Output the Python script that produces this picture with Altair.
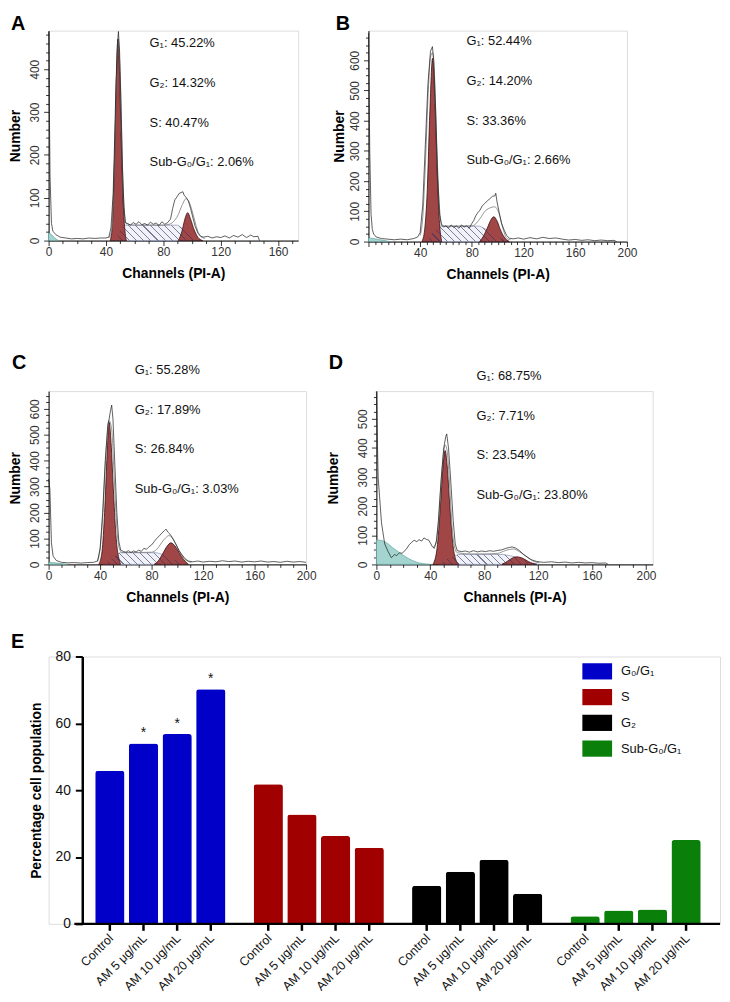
import altair as alt
import pandas as pd

FONT = "Liberation Sans, Arial, sans-serif"

# ---------------- Panel A (control) ----------------
A_RAW = [(0,488),(1,150),(2,40),(3,22),(5,14),(8,8),(12,6),(16,4),(20,5),(24,4),(28,6),(32,5),(36,6),(40,6),(42,8),
         (43.5,30),(45,110),(46,230),(47,370),(48,460),(48.7,488),(49.5,440),(50.5,310),(51.5,170),(52.5,80),(53.5,42),
         (55,40),(57,36),(59,42),(61,38),(63,44),(65,37),(67,40),(69,36),(71,43),(73,38),(75,41),(77,35),(79,44),(81,38),
         (83,42),(85,50),(86.5,75),(88,95),(89.5,102),(91,110),(93.6,114),(94.5,106),(96,100),(97.5,92),(99,75),(100.5,55),
         (102,35),(104,18),(106,10),(108,8),(111,10),(114,6),(117,9),(120,7),(123,11),(126,6),(129,12),(132,8),(135,14),
         (138,7),(141,13),(143,9),(146,10),(147,0)]
A_MODEL = [(42,6),(44,25),(46,200),(47.5,400),(48.5,470),(50,380),(52,120),(54,40),(60,36),(70,36),(80,36),(84,38),
           (87,44),(90,58),(93,82),(95.9,98),(98,90),(100,70),(102,45),(104,22),(106,10),(109,5)]
A_G1 = [(43,0),(44.5,40),(46,190),(47.3,380),(48.3,470),(49.3,410),(50.5,250),(52,90),(53.3,20),(54.3,0)]
A_G2 = [(90.5,0),(93,22),(95,50),(97,65),(99,50),(101.5,25),(104,8),(107.4,0)]
A_S = [(46,0),(49,18),(52,36),(90,36),(95,24),(100,9),(105,0)]
A_SUB = [(0,18),(2,14),(4,7),(6,2),(7,0)]
A_STATS = ["G₁: 45.22%", "G₂: 14.32%", "S: 40.47%", "Sub-G₀/G₁: 2.06%"]

# ---------------- Panel B (AM 5 µg/mL) ----------------
B_RAW = [(0,690),(1,300),(2,90),(3,40),(4,25),(6,15),(10,10),(15,8),(20,6),(25,8),(30,6),(35,10),(38,15),(40,30),
         (42,120),(44,320),(46,520),(48,630),(49.5,645),(50.5,600),(52,430),(53.5,220),(55,90),(56.5,55),(58,48),
         (60,52),(62,45),(64,55),(66,47),(68,52),(70,44),(72,55),(74,48),(76,52),(78,44),(80,60),(81.5,70),(83,85),
         (84.5,95),(86.3,104),(88,118),(90,126),(92,135),(94,142),(96,150),(97.7,151),(98.5,160),(99.5,131),
         (101.6,87),(103,60),(105,38),(107,20),(109,11),(112,9),(116,12),(120,8),(125,13),(130,9),(135,14),(140,10),
         (145,12),(150,8),(155,5),(160,7),(165,4),(170,6),(175,3),(180,5),(185,3),(190,4),(192,0)]
B_MODEL = [(40,20),(42,80),(44,250),(46,470),(48,610),(49.6,625),(51,560),(53,300),(55,110),(57,55),(60,51),(70,51),
           (80,52),(82,55),(86.3,76),(91,104),(97.7,115),(101,93),(104,44),(107,11),(110,6)]
B_G1 = [(41.4,0),(43.5,40),(45.5,170),(47.5,430),(49.6,607),(51.5,450),(53.5,190),(55,60),(56.7,0)]
B_G2 = [(86,0),(89,18),(92,45),(94.5,70),(97,82),(99.5,68),(102,40),(105,15),(109,0)]
B_S = [(44,0),(49,25),(55.4,51),(86,51),(92,38),(98,20),(104,7),(109,0)]
B_SUB = [(0,12),(4,10),(8,7),(12,4),(16,0)]
B_STATS = ["G₁: 52.44%", "G₂: 14.20%", "S: 33.36%", "Sub-G₀/G₁: 2.66%"]

# ---------------- Panel C (AM 10 µg/mL) ----------------
C_RAW = [(0,330),(1,290),(2.2,83),(3.5,32),(6,15),(10,8),(15,6),(20,7),(25,5),(30,7),(35,8),(38,13),(40,60),(42,200),
         (44,400),(46,540),(47,560),(48,590),(49,614),(50,560),(51.5,380),(53,200),(54.5,90),(56,55),(58,50),(60,47),
         (62,53),(64,46),(66,52),(68,48),(70,55),(72,50),(74,62),(76,58),(78,68),(80,75),(82,88),(84,100),(86,110),
         (88,121),(90,130),(91.2,136),(92.5,125),(94,118),(96.3,102),(98,85),(99.6,70),(101.5,52),(103.5,38),(106,22),
         (108.6,13),(112,10),(116,13),(120,9),(125,12),(130,10),(135,14),(140,11),(145,13),(150,9),(155,12),(160,10),
         (165,13),(170,9),(175,11),(180,8),(185,12),(190,9),(195,11),(200,8)]
C_MODEL = [(38,12),(40,60),(42,180),(44,380),(46,520),(47,555),(49,520),(51,330),(53,140),(55,60),(57,46),(70,46),
           (80,47),(84,58),(88,85),(91,103),(93.4,111),(96,102),(99,78),(102,47),(105,24),(108,12),(111,8)]
C_G1 = [(39,0),(41.5,50),(43.5,200),(45.5,430),(47,548),(48.5,470),(50.5,270),(52.5,100),(54.5,25),(56,0)]
C_G2 = [(82,0),(85,12),(88.5,40),(92,70),(95,83),(98,72),(101.5,45),(105,18),(108.6,0)]
C_S = [(42,0),(48,20),(55.3,45),(84,45),(90,36),(96,22),(102,9),(108,0)]
C_SUB = [(0,8),(5,6),(10,3),(15,0)]
C_STATS = ["G₁: 55.28%", "G₂: 17.89%", "S: 26.84%", "Sub-G₀/G₁: 3.03%"]

# ---------------- Panel D (AM 20 µg/mL) ----------------
D_RAW = [(0,595),(1.3,300),(3.8,142),(6.2,70),(8.6,45),(11.1,23),(13.5,34),(15,30),(17.1,40),(19,38),(22,51),
         (24.4,68),(26,75),(28,83),(30,78),(31.6,85),(33.5,80),(35.3,91),(37,86),(38.9,83),(40.5,70),(41.3,62),
         (43,55),(44.5,80),(46,150),(48,290),(50,400),(51.5,440),(52.2,448),(53.5,400),(55,300),(57,150),(58.5,70),
         (60,47),(63,44),(66,46),(69,42),(72,47),(75,43),(78,46),(81,44),(84,47),(87,45),(90,48),(93,50),(96,55),
         (98.5,58),(100.7,60),(103,57),(106,48),(109,35),(112,25),(115,16),(119,10),(124,7),(130,9),(135,6),(140,8),
         (145,5),(150,7),(155,5),(160,6),(165,4),(170,5),(172,0)]
D_MODEL = [(42,60),(44,70),(46,140),(48,280),(50,390),(51,410),(52.5,390),(54,300),(56,140),(58,60),(60,40),(70,36),
           (80,36),(90,38),(96,48),(101.5,53),(106,44),(111,28),(116,12),(121,5)]
D_G1 = [(42,0),(45,55),(47.5,200),(49.5,340),(51,391),(52.5,340),(54.5,200),(57,60),(59,15),(61,0)]
D_G2 = [(93,0),(96,7),(99.5,18),(104,26),(109,20),(113,9),(116,3),(119,0)]
D_S = [(46,0),(52,18),(60.7,34),(94,34),(101,28),(108,16),(115,6),(120,0)]
D_SUB = [(0,84),(4,82),(8,73),(12,58),(16,44),(20,31),(24,20),(28,11),(32,5),(36,2),(40,0)]
D_STATS = ["G₁: 68.75%", "G₂: 7.71%", "S: 23.54%", "Sub-G₀/G₁: 23.80%"]

# ---------------- Panel E (bar chart) ----------------
E_PHASES = ["G₀/G₁", "S", "G₂", "Sub-G₀/G₁"]
E_COLORS = ["#0000c8", "#a00000", "#000000", "#0a7f0a"]
E_TREATMENTS = ["Control", "AM 5 μg/mL", "AM 10 μg/mL", "AM 20 μg/mL"]
E_G0G1 = [45.8, 54.0, 56.8, 70.2]
E_S = [41.8, 32.7, 26.3, 22.8]
E_G2 = [11.4, 15.6, 19.2, 9.0]
E_SUB = [2.3, 4.0, 4.3, 25.1]
E_STARS_G0G1 = ["", "*", "*", "*"]


def pts(p):
    return pd.DataFrame(p, columns=["ch", "n"])


def hatch_gradient(w, h, period=7.0, line="rgba(45,50,100,0.6)", bg="rgba(0,0,0,0)"):
    """Diagonal hatch as a striped linear gradient over the mark's bounding box."""
    r = h / w
    k = (1 + r) / (1 + r * r)
    n = max(1, int(round((w + h) / period)))
    stops = []
    for i in range(n):
        a = i / n
        b = (i + 0.16) / n
        stops += [{"offset": a, "color": line}, {"offset": b, "color": line},
                  {"offset": b, "color": bg}, {"offset": (i + 1) / n, "color": bg}]
    return {"gradient": "linear", "x1": 0, "y1": 1, "x2": k, "y2": 1 - k * r, "stops": stops}


def hist_panel(letter, raw, model, g1, g2, s, sub, stats, xmax, ymax, xstep, ystep,
               width, height, letter_x, letter_y, text_x, text_y, title_pad, hide_zero=False):
    lab_x = "datum.value % 40 === 0" + (" && datum.value > 0" if hide_zero else "")
    xaxis = alt.Axis(
        values=list(range(0, min(int(xmax), 200) + 1, xstep)),
        labelExpr=f"({lab_x}) ? datum.label : ''",
        tickSize={"condition": {"test": "datum.value % 40 === 0", "value": 5}, "value": 3},
        title="Channels (PI-A)", titleFontSize=14, titleFontWeight="bold", titleFont=FONT,
        titlePadding=9, labelFont=FONT, labelFontSize=12, labelColor="#333", labelPadding=1,
        labelOverlap=False, labelFlush=False, grid=False, domainColor="black", tickColor="black",
        tickWidth=0.8, domainWidth=1,
    )
    yaxis = alt.Axis(
        values=list(range(0, int(ymax) + 1, ystep)),
        labelExpr="datum.value % 100 === 0 ? datum.label : ''",
        tickSize={"condition": {"test": "datum.value % 100 === 0", "value": 5}, "value": 3},
        title="Number", titleFontSize=14, titleFontWeight="bold", titleFont=FONT, titlePadding=title_pad,
        labelFont=FONT, labelFontSize=12, labelColor="#333", labelAngle=270, labelAlign="center",
        labelBaseline="bottom", labelPadding=2, labelOverlap=False, labelFlush=False, grid=False,
        domainColor="black", tickColor="black", tickWidth=0.8, domainWidth=1,
    )
    xs = alt.Scale(domain=[0, xmax], nice=False, zero=False)
    ys = alt.Scale(domain=[0, ymax], nice=False)
    X = alt.X("ch:Q", scale=xs, axis=xaxis)
    Y = alt.Y("n:Q", scale=ys, axis=yaxis)

    # pixel size of the S-phase region, for the hatch spacing
    s_w = (max(p[0] for p in s) - min(p[0] for p in s)) * width / xmax
    s_h = max(p[1] for p in s) * height / ymax

    s_layer = alt.Chart(pts(s)).mark_area(fill="#f1f2f8", stroke="#7880a6", strokeWidth=0.6).encode(x=X, y=Y)
    sub_layer = alt.Chart(pts(sub)).mark_area(fill="#a3d4cf", stroke="#5c9c96", strokeWidth=0.6,
                                              interpolate="monotone").encode(x=X, y=Y)
    g1_layer = alt.Chart(pts(g1)).mark_area(fill="#a04646", stroke="#3a0e0e", strokeWidth=0.8,
                                            interpolate="monotone").encode(x=X, y=Y)
    g2_layer = alt.Chart(pts(g2)).mark_area(fill="#a04646", stroke="#3a0e0e", strokeWidth=0.8,
                                            interpolate="monotone").encode(x=X, y=Y)
    hatch_layer = alt.Chart(pts(s)).mark_area(fill=hatch_gradient(s_w, s_h), strokeWidth=0).encode(x=X, y=Y)
    model_layer = alt.Chart(pts(model)).mark_line(color="#7a7a7a", strokeWidth=0.8,
                                                  interpolate="monotone").encode(x=X, y=Y)
    raw_layer = alt.Chart(pts(raw)).mark_line(color="#1a1a1a", strokeWidth=0.7).encode(x=X, y=Y)
    txt = alt.Chart(pd.DataFrame({"t": ["\n".join(stats)]})).mark_text(
        align="left", baseline="top", lineBreak="\n", lineHeight=40, fontSize=13, font=FONT, color="#111"
    ).encode(x=alt.value(text_x), y=alt.value(text_y), text="t:N")
    let = alt.Chart(pd.DataFrame({"t": [letter]})).mark_text(
        align="left", baseline="middle", fontSize=20, fontWeight="bold", font=FONT, color="black"
    ).encode(x=alt.value(letter_x), y=alt.value(letter_y), text="t:N")
    return alt.layer(s_layer, sub_layer, g1_layer, g2_layer, hatch_layer, model_layer, raw_layer,
                     txt, let).properties(width=width, height=height)


panel_a = hist_panel("A", A_RAW, A_MODEL, A_G1, A_G2, A_S, A_SUB, A_STATS, 174, 490, 10, 20,
                     252, 212, -38, -7, 102, 7, 6)
panel_b = hist_panel("B", B_RAW, B_MODEL, B_G1, B_G2, B_S, B_SUB, B_STATS, 200, 698, 5, 25,
                     261, 213, -33, -7, 99, 5, 2, hide_zero=True)
panel_c = hist_panel("C", C_RAW, C_MODEL, C_G1, C_G2, C_S, C_SUB, C_STATS, 200, 668, 10, 25,
                     260, 175, -37, -28, 87, -27, 6)
panel_d = hist_panel("D", D_RAW, D_MODEL, D_G1, D_G2, D_S, D_SUB, D_STATS, 205, 595, 10, 25,
                     279, 175, -48, -28, 101, -21, 16)

# ---------------- bar chart ----------------
rows = []
for ph, vals in zip(E_PHASES, [E_G0G1, E_S, E_G2, E_SUB]):
    for i, (tr, v) in enumerate(zip(E_TREATMENTS, vals)):
        rows.append({"phase": ph, "treatment": tr, "value": v,
                     "star": E_STARS_G0G1[i] if ph == E_PHASES[0] else ""})
bars_df = pd.DataFrame(rows)

E_W, E_H = 678, 270
AX_IN = 34  # the y axis sits this far inside the panel's left edge
EX = alt.X("phase:N", sort=E_PHASES,
           scale=alt.Scale(domain=E_PHASES, paddingInner=0.178, paddingOuter=0.208, align=0.707),
           axis=alt.Axis(labels=False, ticks=False, title=None, domain=False))
EXO = alt.XOffset("treatment:N", sort=E_TREATMENTS,
                  scale=alt.Scale(domain=E_TREATMENTS, paddingInner=0.13, paddingOuter=0))
EY = alt.Y("value:Q", scale=alt.Scale(domain=[0, 80], nice=False),
           axis=alt.Axis(values=[0, 20, 40, 60, 80], title="Percentage cell population", offset=-AX_IN,
                         titleFont=FONT, titleFontSize=14, titleFontWeight="bold", titlePadding=12,
                         labelFont="Liberation Sans Narrow, Arial Narrow, Liberation Sans, sans-serif",
                         labelFontSize=14, labelColor="#111", labelPadding=5, tickSize=7, tickWidth=2,
                         tickColor="black", domainWidth=2.5, domainColor="black", grid=False))
ECOL = alt.Color("phase:N", scale=alt.Scale(domain=E_PHASES, range=E_COLORS),
                 legend=alt.Legend(orient="none", legendX=540, legendY=1, title=None,
                                   symbolType="M-1.1,-0.6H1.1V0.6H-1.1Z", symbolSize=745,
                                   symbolStrokeWidth=0, symbolOpacity=1, labelFont=FONT,
                                   labelFontSize=13, labelColor="#111", labelOffset=10, rowPadding=3))

bars = alt.Chart(bars_df).mark_bar(cornerRadiusTopLeft=3, cornerRadiusTopRight=3).encode(
    x=EX, xOffset=EXO, y=EY, color=ECOL)
xline = alt.Chart(pd.DataFrame({"t": [0]})).mark_rule(color="black", strokeWidth=2.5).encode(
    x=alt.value(AX_IN - 8), x2=alt.value(E_W), y=alt.value(E_H))
xticks = alt.Chart(bars_df).mark_rule(color="black", strokeWidth=2.5).encode(
    x=EX, xOffset=EXO, y=alt.value(E_H), y2=alt.value(E_H + 7))
xlabels = alt.Chart(bars_df).mark_text(angle=315, align="right", baseline="middle", fontSize=12.5,
                                       font=FONT, color="#111", dx=2).encode(
    x=EX, xOffset=EXO, y=alt.value(E_H + 14), text="treatment:N")
stars = alt.Chart(bars_df).transform_filter("datum.star != ''").mark_text(
    fontSize=14, font=FONT, color="#111", dy=-10).encode(x=EX, xOffset=EXO, y=EY, text="star:N")
e_letter = alt.Chart(pd.DataFrame({"t": ["E"]})).mark_text(
    align="left", baseline="middle", fontSize=20, fontWeight="bold", font=FONT, color="black"
).encode(x=alt.value(-38), y=alt.value(-15), text="t:N")

panel_e = alt.layer(bars, xline, xticks, xlabels, stars, e_letter).properties(width=E_W, height=E_H)

row1 = alt.concat(panel_a, panel_b, columns=2, align="none", spacing=33)
row2 = alt.concat(panel_c, panel_d, columns=2, align="none", spacing=9)
top = alt.concat(row1, row2, columns=1, align="none", spacing=71)
chart = alt.concat(top, panel_e, columns=1, align="none", spacing=26).properties(
    padding={"left": 0, "top": 0, "right": 0, "bottom": 0}
).resolve_scale(color="independent").configure_view(stroke=None).configure(font=FONT)

chart.save("out.html", embed_options={"renderer": "svg", "actions": False})
